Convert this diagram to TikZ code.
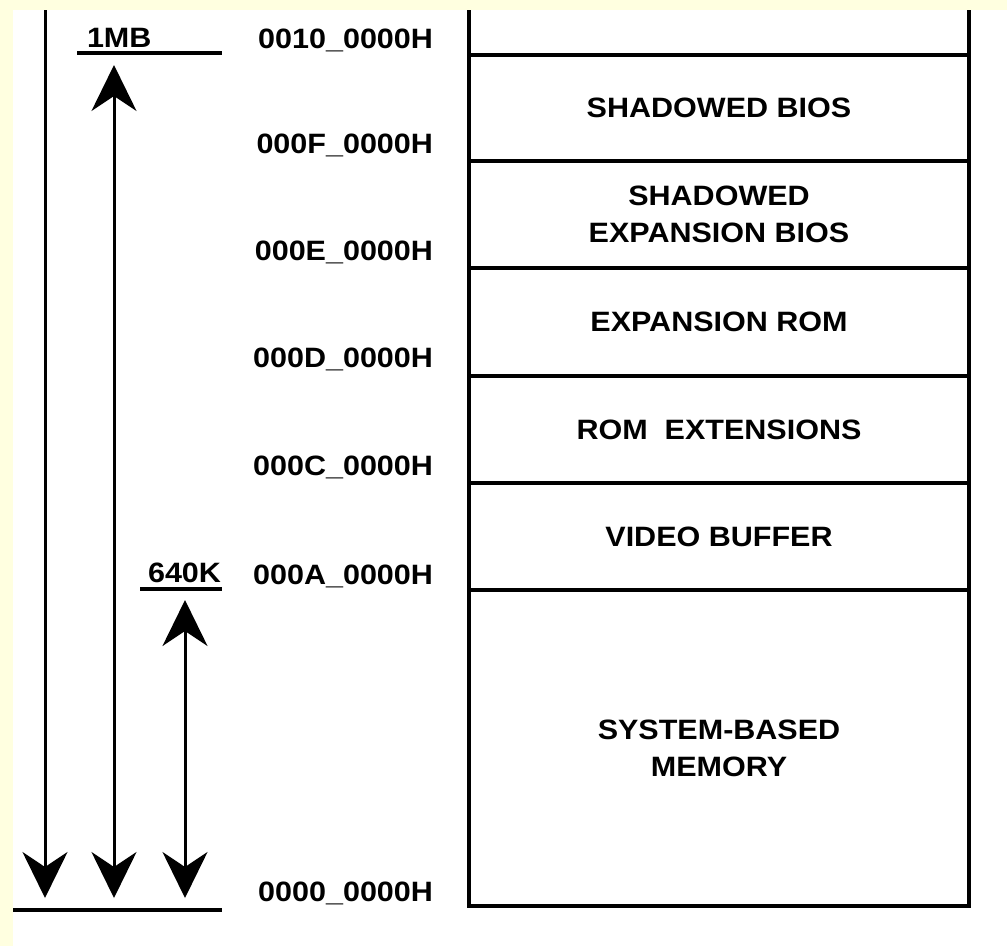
\documentclass[tikz,border=0pt]{standalone}
\usepackage{fontspec}
\setmainfont{Liberation Sans}[FakeStretch=1.09]
\usepackage{xcolor}
\usepackage{tikz}
\usetikzlibrary{arrows.meta, positioning}
\definecolor{paleyellow}{RGB}{255,255,224}

\begin{document}
\begin{tikzpicture}[
          x=1pt, y=-1pt,
          every node/.style={font=\bfseries\fontsize{28}{37}\selectfont, inner sep=0pt, outer sep=0pt},
          region/.style={draw, line width=4pt, minimum width=500pt, align=center},
          addr/.style={anchor=base east},
          mark line/.style={line width=4pt},
          span/.style={line width=3pt, {Stealth[length=46pt, width=45pt, inset=15pt]}-{Stealth[length=46pt, width=45pt, inset=15pt]}},
          down span/.style={line width=3pt, -{Stealth[length=46pt, width=45pt, inset=15pt]}}
        ]
          \useasboundingbox (0,0) rectangle (1007,946);
          \fill[white] (0,0) rectangle (1007,946);

          \node[region, minimum height=51pt] (free) at (719,29.5) {};
          \node[region, minimum height=106pt, below=0pt of free] (bios) {SHADOWED BIOS};
          \node[region, minimum height=107pt, below=0pt of bios] (expbios) {SHADOWED\\EXPANSION BIOS};
          \node[region, minimum height=108pt, below=0pt of expbios] (exprom) {EXPANSION ROM};
          \node[region, minimum height=107pt, below=0pt of exprom] (romext) {ROM\ \ EXTENSIONS};
          \node[region, minimum height=107pt, below=0pt of romext] (video) {VIDEO BUFFER};
          \node[region, minimum height=316pt, below=0pt of video] (sysmem) {SYSTEM-BASED\\MEMORY};

          \node[addr] (a10) at (433,48) {0010\_0000H};
          \node[addr] (a0f) at (433,153) {000F\_0000H};
          \node[addr] (a0e) at (433,260) {000E\_0000H};
          \node[addr] (a0d) at (433,367) {000D\_0000H};
          \node[addr] (a0c) at (433,475) {000C\_0000H};
          \node[addr] (a0a) at (433,584) {000A\_0000H};
          \node[addr] (a00) at (433,901) {0000\_0000H};

          \node[anchor=base west] (mb) at (87,47) {1MB};
          \node[anchor=base east] (kb) at (221,582) {640K};

          \coordinate (mbL) at (77,53);
          \coordinate (mbR) at (222,53);
          \coordinate (kbL) at (140,589);
          \coordinate (kbR) at (222,589);
          \coordinate (baseL) at (13,910);
          \coordinate (baseR) at (222,910);
          \draw[mark line] (mbL) -- (mbR);
          \draw[mark line] (kbL) -- (kbR);
          \draw[mark line] (baseL) -- (baseR);

          \coordinate (allTop) at (45,0);
          \coordinate (allEnd) at (45,898);
          \coordinate (mbTop) at (114,65);
          \coordinate (mbEnd) at (114,898);
          \coordinate (kbTop) at (185,600);
          \coordinate (kbEnd) at (185,898);
          \draw[down span] (allTop) -- (allEnd);
          \draw[span] (mbTop) -- (mbEnd);
          \draw[span] (kbTop) -- (kbEnd);

          \fill[paleyellow] (0,0) rectangle (1007,10);
          \fill[paleyellow] (0,0) rectangle (13,946);
        \end{tikzpicture}
\end{document}
